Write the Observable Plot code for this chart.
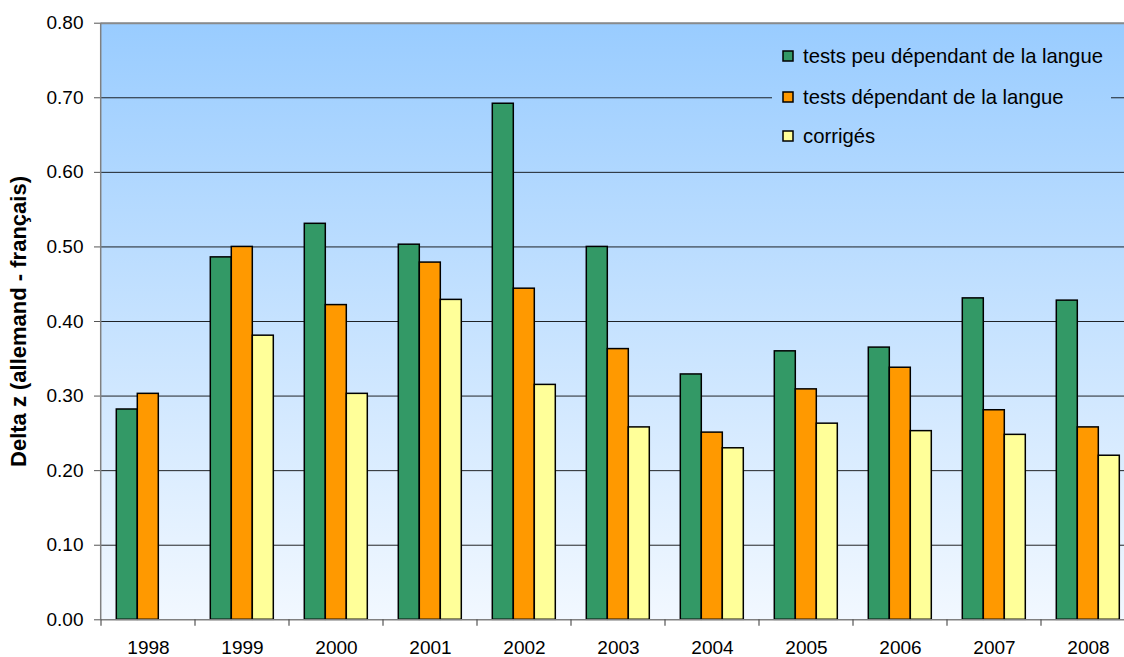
<!DOCTYPE html>
<html>
<head>
<meta charset="utf-8">
<script src="https://cdn.jsdelivr.net/npm/d3@7"></script>
<script src="https://cdn.jsdelivr.net/npm/@observablehq/plot@0.6"></script>
<style>
  html, body { margin: 0; padding: 0; background: #fff; overflow: hidden; }
  #chart { width: 1124px; height: 657px; overflow: hidden; }
</style>
</head>
<body>
<div id="chart"></div>
<script>
const years = ["1998","1999","2000","2001","2002","2003","2004","2005","2006","2007","2008"];
const seriesNames = ["tests peu dépendant de la langue", "tests dépendant de la langue", "corrigés"];
const peuDependant = [0.282, 0.486, 0.531, 0.503, 0.692, 0.500, 0.329, 0.360, 0.365, 0.431, 0.428];
const dependant    = [0.303, 0.500, 0.422, 0.479, 0.444, 0.363, 0.251, 0.309, 0.338, 0.281, 0.258];
const corriges     = [null,  0.381, 0.303, 0.429, 0.315, 0.258, 0.230, 0.263, 0.253, 0.248, 0.220];
const seriesColors = ["#339966", "#FF9900", "#FFFF99"];
const yTicks = [0, 0.1, 0.2, 0.3, 0.4, 0.5, 0.6, 0.7, 0.8];
const yLabel = "Delta z (allemand - français)";

const table = [];
[peuDependant, dependant, corriges].forEach((vals, j) => {
  vals.forEach((v, i) => {
    if (v != null) table.push({year: years[i], series: seriesNames[j], value: v});
  });
});

const chart = Plot.plot({
  width: 1124,
  height: 657,
  marginLeft: 100.7,
  marginRight: -12,
  marginTop: 22.7,
  marginBottom: 37.7,
  style: {fontFamily: "'Liberation Sans', Arial, sans-serif", fontSize: "19px", background: "#fff", color: "#000", overflow: "visible"},
  fx: {domain: years, padding: 0, label: null},
  x: {domain: seriesNames, paddingInner: 0, paddingOuter: 0.69, axis: null},
  y: {domain: [0, 0.8], axis: null},
  color: {domain: seriesNames, range: seriesColors},
  marks: [
    Plot.gridY(yTicks.slice(1, -1), {stroke: "#000", strokeOpacity: 0.85, strokeWidth: 1}),
    Plot.barY(table, {fx: "year", x: "series", y: "value", fill: "series", stroke: "#000", strokeWidth: 1.5, inset: 0}),
    Plot.ruleY([0.8], {stroke: "#8a8a8a", strokeWidth: 2}),
    Plot.ruleY([0], {stroke: "#808080", strokeWidth: 1.5}),
    Plot.axisY(yTicks, {tickFormat: d3.format(".2f"), tickSize: 7, tickPadding: 11, stroke: "#555", label: null, fontSize: 19}),
    Plot.axisFx({anchor: "bottom", tickSize: 0, tickPadding: 21, label: null, fontSize: 19}),
    Plot.text([yLabel], {frameAnchor: "left", textAnchor: "middle", rotate: -90, dx: -82.7, fontWeight: "bold", fontSize: 22, facet: "super"})
  ]
});

document.getElementById("chart").appendChild(chart);

// Background gradient, left axis line, category boundary ticks, legend
const svg = d3.select(chart);
const fx = chart.scale("fx");
const yS = chart.scale("y");
const xStart = fx.range[0], xEnd = fx.range[1];
const yTop = yS.apply(0.8), yBot = yS.apply(0);

const ns = "http://www.w3.org/2000/svg";
const defs = document.createElementNS(ns, "defs");
chart.insertBefore(defs, chart.firstChild);
const grad = d3.select(defs).append("linearGradient")
  .attr("id", "bgGrad").attr("gradientUnits", "userSpaceOnUse")
  .attr("x1", 0).attr("x2", 0).attr("y1", yTop).attr("y2", yBot);
grad.append("stop").attr("offset", 0).attr("stop-color", "#99CCFF");
grad.append("stop").attr("offset", 1).attr("stop-color", "#F2F8FF");

svg.insert("rect", "g")
  .attr("x", xStart).attr("y", yTop)
  .attr("width", xEnd - xStart).attr("height", yBot - yTop)
  .attr("fill", "url(#bgGrad)");

const overlay = svg.append("g");
overlay.append("line")
  .attr("x1", xStart).attr("x2", xStart).attr("y1", yTop).attr("y2", yBot + 0.75)
  .attr("stroke", "#808080").attr("stroke-width", 1.5);

const bounds = years.map(y => fx.apply(y)).concat([fx.apply(years[years.length - 1]) + fx.bandwidth]);
overlay.selectAll("line.bt").data(bounds).join("line")
  .attr("class", "bt")
  .attr("x1", d => d).attr("x2", d => d)
  .attr("y1", yBot).attr("y2", yBot + 6.5)
  .attr("stroke", "#555").attr("stroke-width", 1.2);

// Legend
const legendRows = [56, 97, 136];
const legend = svg.append("g").attr("text-anchor", "start");
legend.append("rect")
  .attr("x", 772).attr("y", 33).attr("width", 339).attr("height", 127)
  .attr("fill", "url(#bgGrad)");
seriesNames.forEach((name, i) => {
  const cy = legendRows[i];
  legend.append("rect")
    .attr("x", 783).attr("y", cy - 5).attr("width", 10).attr("height", 10)
    .attr("fill", seriesColors[i]).attr("stroke", "#000").attr("stroke-width", 1.5);
  legend.append("text")
    .attr("x", 803).attr("y", cy).attr("dy", "0.36em")
    .attr("text-anchor", "start")
    .attr("font-size", 20.3).attr("fill", "#000")
    .attr("font-family", "'Liberation Sans', Arial, sans-serif")
    .text(name);
});
</script>
</body>
</html>
